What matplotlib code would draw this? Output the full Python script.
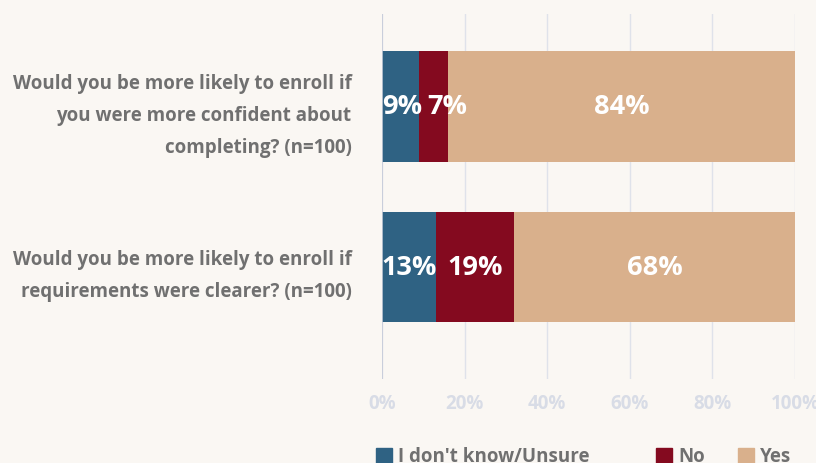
import matplotlib.pyplot as plt
from matplotlib.patches import Rectangle
from matplotlib.transforms import ScaledTranslation
import numpy as np

plt.rcParams['font.family'] = ['Open Sans', 'DejaVu Sans']

questions = [
    "Would you be more likely to enroll if\nyou were more confident about\ncompleting? (n=100)",
    "Would you be more likely to enroll if\nrequirements were clearer? (n=100)",
]
series = ["I don't know/Unsure", "No", "Yes"]
unsure = [9, 13]
no = [7, 19]
yes = [84, 68]
colors = ["#2f6283", "#840a1f", "#d9b08c"]
xticks = [0, 20, 40, 60, 80, 100]
# horizontal nudge (pixels) for labels in narrow segments, per series and row
nudge = [[2, 0], [14, 0], [0, 0]]

W, H = 816, 464
bg = "#faf7f3"
fig = plt.figure(figsize=(W/100, H/100), dpi=100, facecolor=bg)
ax = fig.add_axes([382/W, 1-380/H, (795-382)/W, (380-15)/H], facecolor=bg)

y = np.arange(len(questions))
left = np.zeros(len(questions))
for name, vals, c, nd in zip(series, [unsure, no, yes], colors, nudge):
    ax.barh(y, vals, left=left, height=0.69, color=c, label=name, zorder=3)
    for yi, l, v, dx in zip(y, left, vals, nd):
        ax.annotate(f"{v}%", (l + v/2, yi), xytext=(dx*0.72, 0), textcoords='offset points',
                    ha='center', va='center', color='white',
                    fontsize=19.5, fontweight='bold', zorder=4)
    left += np.array(vals)

ax.set_xlim(0, 100)
ax.set_ylim(1.698, -0.576)
ax.set_xticks(xticks)
ax.set_xticklabels([f"{t}%" for t in xticks], color="#d8dce6", fontsize=13.5, fontweight='bold')
ax.set_yticks(y)
ax.set_yticklabels(questions, color="#707070", fontsize=13.5, fontweight='bold',
                   linespacing=1.78, ha='right')
shift = ScaledTranslation(0, 4/100, fig.dpi_scale_trans)
for lab in ax.get_yticklabels():
    lab.set_transform(lab.get_transform() + shift)
ax.tick_params(axis='both', length=0)
ax.tick_params(axis='y', pad=22)
ax.tick_params(axis='x', pad=10)
ax.grid(axis='x', color="#dfe2ea", linewidth=1, zorder=0)
ax.axvline(0, color="#c5cbd8", linewidth=1.2, zorder=5)
for s in ax.spines.values():
    s.set_visible(False)

# legend drawn by hand, uneven spacing as in the original
legend_x = [376, 656, 738]
for x0, name, c in zip(legend_x, series, colors):
    fig.patches.append(Rectangle((x0/W, 1-464/H), 16/W, 15/H, transform=fig.transFigure,
                                 color=c, figure=fig))
    fig.text((x0+22)/W, 1-457/H, name, ha='left', va='center', color="#707070",
             fontsize=13.5, fontweight='bold')

fig.savefig("out.png", dpi=100, facecolor=bg)
